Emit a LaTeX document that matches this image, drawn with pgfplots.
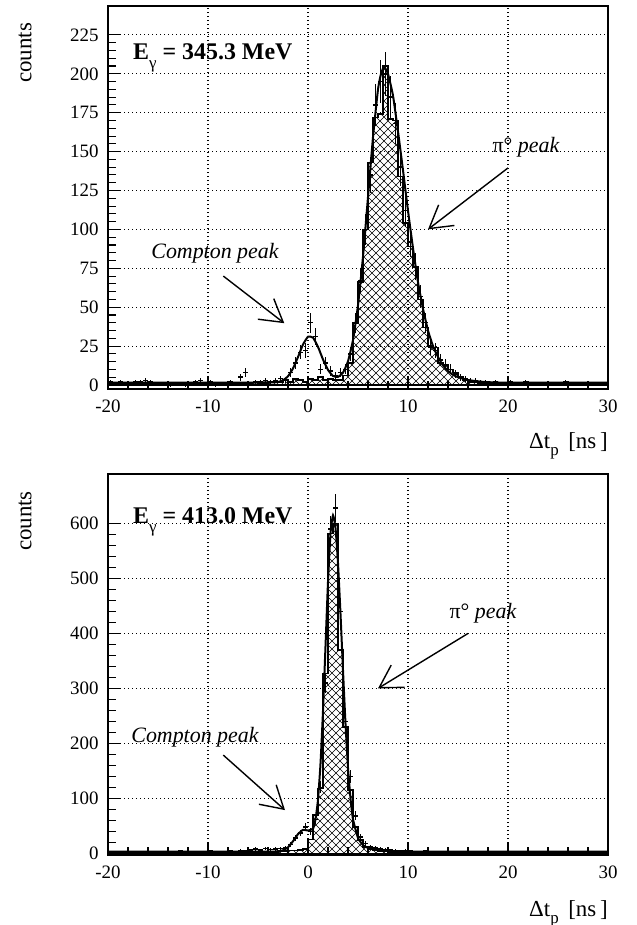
\documentclass[border=0pt]{standalone}
\usepackage{fontspec}
\setmainfont{Liberation Serif}
\usepackage{pgfplots}
\pgfplotsset{compat=1.18}
\usepackage{pgfplotstable}
\usetikzlibrary{arrows.meta,patterns}

\pgfdeclarepatternformonly{bigcross}{\pgfpoint{-1bp}{-1bp}}{\pgfpoint{9bp}{9bp}}{\pgfpoint{8bp}{8bp}}{%
  \pgfsetlinewidth{0.6bp}%
  \pgfpathmoveto{\pgfpoint{0bp}{0bp}}\pgfpathlineto{\pgfpoint{8bp}{8bp}}%
  \pgfpathmoveto{\pgfpoint{0bp}{8bp}}\pgfpathlineto{\pgfpoint{8bp}{0bp}}%
  \pgfusepath{stroke}}

% top panel: histogram (left bin edge, counts)
\pgfplotstableread[row sep=\\]{
x y\\
-20 1\\ -18 0.5\\ -16 1\\ -14 0.5\\ -12 1\\ -10 0.5\\ -8 1\\ -6 1.5\\ -5 1\\ -4 2\\ -3 1.5\\ -2.5 3\\ -2 2\\ -1.5 4\\ -1 3\\ -0.5 2\\ 0 4\\ 0.5 3\\ 1 5\\ 1.5 3\\ 2 4\\ 2.5 3\\ 3 3\\ 3.5 6\\ 4 14\\ 4.5 40\\ 5 66\\ 5.5 100\\ 6 143\\ 6.5 172\\ 7 174\\ 7.5 205\\ 8 171\\ 8.5 170\\ 9 134\\ 9.5 104\\ 10 89\\ 10.5 76\\ 11 55\\ 11.5 37\\ 12 25\\ 12.5 24\\ 13 14\\ 13.5 13\\ 14 10\\ 14.5 8\\ 15 5\\ 15.5 3\\ 16 2\\ 17 1\\ 18 0.5\\ 20 1\\ 22 0.5\\ 24 0.5\\ 26 0.5\\ 28 0.5\\ 30 0.5\\
}\histA

% top panel: data points (bin centre, counts, error)
\pgfplotstableread[row sep=\\]{
x y e\\
-19.75 2 1.4\\ -19.25 1 1\\ -18.75 2 1.4\\ -18.25 1 1\\ -17.75 1 1\\ -17.25 2 1.4\\ -16.75 2 1.4\\ -16.25 3 1.7\\ -15.75 2 1.4\\ -15.25 1 1\\
-14.75 1 1\\ -14.25 1 1\\ -13.75 0 1\\ -13.25 1 1\\ -12.75 1 1\\ -12.25 0 1\\ -11.75 1 1\\ -11.25 2 1.4\\ -10.75 3 1.7\\ -10.25 1 1\\
-9.75 2 1.4\\ -9.25 0 1\\ -8.75 1 1\\ -8.25 1 1\\ -7.75 2 1.4\\ -7.25 1 1\\ -6.75 5 2.2\\ -6.25 8 2.8\\ -5.75 1 1\\ -5.25 2 1.4\\
-4.75 2 1.4\\ -4.25 3 1.7\\ -3.75 2 1.4\\ -3.25 3 1.7\\ -2.75 4 2\\ -2.25 3 1.7\\ -1.75 8 2.8\\ -1.25 14 3.7\\ -0.75 21 4.6\\ -0.25 22 4.7\\
0.25 40 6.3\\ 0.75 31 5.6\\ 1.25 10 3.2\\ 1.75 14 3.7\\ 2.25 9 3\\ 2.75 6 2.4\\ 3.25 8 2.8\\ 3.75 10 3.2\\ 4.25 20 4.5\\ 4.75 40 6.3\\
5.25 67 8.2\\ 5.75 100 10\\ 6.25 135 11.6\\ 6.75 180 13.4\\ 7.25 195 14\\ 7.75 200 14.1\\ 8.25 185 13.6\\ 8.75 168 13\\ 9.25 140 11.8\\ 9.75 112 10.6\\
10.25 92 9.6\\ 10.75 76 8.7\\ 11.25 57 7.5\\ 11.75 40 6.3\\ 12.25 24 4.9\\ 12.75 22 4.7\\ 13.25 16 4\\ 13.75 13 3.6\\ 14.25 10 3.2\\ 14.75 7 2.6\\
15.25 5 2.2\\ 15.75 4 2\\ 16.25 3 1.7\\ 16.75 3 1.7\\ 17.25 2 1.4\\ 17.75 2 1.4\\ 18.25 1 1\\ 18.75 2 1.4\\ 19.25 1 1\\ 19.75 1 1\\
20.25 2 1.4\\ 20.75 1 1\\ 21.25 1 1\\ 21.75 2 1.4\\ 22.25 1 1\\ 22.75 1 1\\ 23.25 1 1\\ 23.75 1 1\\ 24.25 1 1\\ 24.75 1 1\\
25.25 1 1\\ 25.75 2 1.4\\ 26.25 1 1\\ 26.75 1 1\\ 27.25 1 1\\ 27.75 1 1\\ 28.25 1 1\\ 28.75 1 1\\ 29.25 1 1\\ 29.75 1 1\\
}\dataA

% bottom panel: histogram
\pgfplotstableread[row sep=\\]{
x y\\
-20 2\\ -18 1\\ -16 2\\ -14 1\\ -12 2\\ -10 1\\ -8 2\\ -6 1\\ -5 2\\ -4 3\\ -3 4\\ -2 5\\ -1 6\\ -0.5 8\\ 0 25\\ 0.5 70\\ 1 118\\ 1.5 327\\ 2 582\\ 2.5 600\\ 3 370\\ 3.5 230\\ 4 115\\ 4.5 48\\ 5 24\\ 5.5 12\\ 6 8\\ 6.5 6\\ 7 4\\ 8 3\\ 9 2\\ 10 3\\ 12 2\\ 14 2\\ 16 1\\ 18 2\\ 20 1\\ 22 2\\ 24 1\\ 26 1\\ 28 1\\ 30 1\\
}\histB

% bottom panel: data points
\pgfplotstableread[row sep=\\]{
x y e\\
-19.75 3 1.7\\ -19.25 2 1.4\\ -18.75 3 1.7\\ -18.25 2 1.4\\ -17.75 3 1.7\\ -17.25 2 1.4\\ -16.75 2 1.4\\ -16.25 3 1.7\\ -15.75 2 1.4\\ -15.25 2 1.4\\
-14.75 3 1.7\\ -14.25 2 1.4\\ -13.75 2 1.4\\ -13.25 3 1.7\\ -12.75 4 2\\ -12.25 3 1.7\\ -11.75 2 1.4\\ -11.25 3 1.7\\ -10.75 3 1.7\\ -10.25 2 1.4\\
-9.75 4 2\\ -9.25 3 1.7\\ -8.75 3 1.7\\ -8.25 2 1.4\\ -7.75 4 2\\ -7.25 3 1.7\\ -6.75 5 2.2\\ -6.25 4 2\\ -5.75 6 2.4\\ -5.25 8 2.8\\
-4.75 6 2.4\\ -4.25 9 3\\ -3.75 7 2.6\\ -3.25 8 2.8\\ -2.75 9 3\\ -2.25 10 3.2\\ -1.75 16 4\\ -1.25 28 5.3\\ -0.75 37 6.1\\ -0.25 48 6.9\\
0.25 40 6.3\\ 0.75 62 7.9\\ 1.25 120 11\\ 1.75 310 17.6\\ 2.25 590 24.3\\ 2.75 628 25.1\\ 3.25 440 21\\ 3.75 240 15.5\\ 4.25 140 11.8\\ 4.75 68 8.2\\
5.25 30 5.5\\ 5.75 18 4.2\\ 6.25 12 3.5\\ 6.75 10 3.2\\ 7.25 8 2.8\\ 7.75 7 2.6\\ 8.25 6 2.4\\ 8.75 5 2.2\\ 9.25 4 2\\ 9.75 5 2.2\\
10.25 4 2\\ 10.75 3 1.7\\ 11.25 3 1.7\\ 11.75 4 2\\ 12.25 3 1.7\\ 12.75 2 1.4\\ 13.25 3 1.7\\ 13.75 2 1.4\\ 14.25 3 1.7\\ 14.75 2 1.4\\
15.25 2 1.4\\ 15.75 3 1.7\\ 16.25 2 1.4\\ 16.75 2 1.4\\ 17.25 3 1.7\\ 17.75 2 1.4\\ 18.25 2 1.4\\ 18.75 3 1.7\\ 19.25 2 1.4\\ 19.75 2 1.4\\
20.25 3 1.7\\ 20.75 2 1.4\\ 21.25 2 1.4\\ 21.75 3 1.7\\ 22.25 2 1.4\\ 22.75 2 1.4\\ 23.25 3 1.7\\ 23.75 2 1.4\\ 24.25 2 1.4\\ 24.75 2 1.4\\
25.25 3 1.7\\ 25.75 2 1.4\\ 26.25 2 1.4\\ 26.75 2 1.4\\ 27.25 2 1.4\\ 27.75 3 1.7\\ 28.25 2 1.4\\ 28.75 2 1.4\\ 29.25 2 1.4\\ 29.75 2 1.4\\
}\dataB

\tikzset{
  ann/.style={font=\fontsize{22}{22}\selectfont\itshape, inner sep=0pt},
  arr/.style={black, line width=1.4bp, -{Straight Barb[length=22bp, width=26bp, line width=1.4bp]}},
}
\pgfplotsset{
  panel/.style={
    scale only axis, width=500bp,
    xmin=-20, xmax=30,
    xtick={-20,-10,0,10,20,30},
    xticklabels={-20,-10,0,10,20,30},
    minor x tick num=4, minor y tick num=4,
    tick pos=left, tick align=inside,
    major tick length=12bp, minor tick length=8bp,
    tick style={black, line width=1.1bp},
    xmajorgrids, ymajorgrids,
    major grid style={black, line width=1.1bp, dash pattern=on 1.3bp off 2.7bp},
    axis line style={black, line width=1.1bp},
    ticklabel style={font=\fontsize{19}{19}\selectfont},
    xticklabel style={yshift=-7bp},
    yticklabel style={xshift=-6bp},
    clip mode=individual,
  },
  histo/.style={const plot, draw=black, line width=1.6bp, pattern=bigcross, mark=none},
  fit/.style={black, line width=2bp, smooth, tension=0.3, mark=none},
  pts/.style={black, only marks, mark=-, mark size=0.1bp,
    error bars/.cd, x dir=both, x fixed=0.25, y dir=both, y explicit,
    error bar style={line width=1.5bp, black}, error mark=none},
}

\begin{document}
\begin{tikzpicture}
\path[use as bounding box] (0bp,0bp) rectangle (637bp,-925bp);

% ---------------- top panel ----------------
\begin{axis}[panel, at={(108bp,-6bp)}, anchor=north west, height=383bp,
  ymin=-2.6, ymax=243.6,
  ytick={0,25,50,75,100,125,150,175,200,225},
  yticklabels={0,25,50,75,100,125,150,175,200,225}]
\addplot[histo] table[x=x,y=y] {\histA} \closedcycle;
\addplot[fit] coordinates {(-20,1.5) (-10,1.5) (-4,1.6) (-3,1.9) (-2.5,3.0) (-2,5.6) (-1.5,10.6) (-1,18.0) (-0.5,26.0) (0,31.0) (0.5,30.4) (1,24.5) (1.5,16.4) (2,9.7) (2.5,5.8) (3,5.2) (3.5,7.9) (4,15.2) (4.5,28.9) (5,51.2) (5.5,82.5) (6,120.7) (6.5,159.3) (7,190) (7.3,200) (7.6,204.5) (8,200) (8.5,186) (9,163) (9.5,138) (10,112) (10.5,88) (11,66) (11.5,49) (12,35) (12.5,25) (13,18) (13.5,12.5) (14,9) (14.5,6.5) (15,5) (16,3.2) (17,2.3) (18,1.8) (20,1.5) (30,1.5)};
\addplot[pts] table[x=x,y=y,y error=e] {\dataA};
\node[anchor=base west, inner sep=0pt, font=\fontsize{24}{24}\selectfont\bfseries] at (axis cs:-17.5,209)
  {E\raisebox{-9bp}{\fontsize{17}{17}\selectfont\mdseries γ} = 345.3 MeV};
\node[ann] at (axis cs:-9.3,85) {Compton peak};
\draw[arr] (axis cs:-8.47,70) -- (axis cs:-2.37,39.7);
\node[ann, anchor=center] at (axis cs:21.8,153) {\upshape π°\ \itshape peak};
\draw[arr] (axis cs:20.0,139.5) -- (axis cs:12.0,100);
\end{axis}
\node[rotate=90, font=\fontsize{23}{23}\selectfont] at (25bp,-53bp) {counts};
\node[anchor=base east, inner sep=0pt, font=\fontsize{23}{23}\selectfont] at (608bp,-448bp)
  {Δt\raisebox{-7bp}{\fontsize{17}{17}\selectfont p}\ \,[ns\,]};

% ---------------- bottom panel ----------------
\begin{axis}[panel, at={(108bp,-474bp)}, anchor=north west, height=381bp,
  ymin=-3, ymax=690,
  ytick={0,100,200,300,400,500,600},
  yticklabels={0,100,200,300,400,500,600}]
\addplot[histo] table[x=x,y=y] {\histB} \closedcycle;
\addplot[fit] coordinates {(-20,3) (-10,3) (-4,3.1) (-3,3.6) (-2.5,5.6) (-2,11.2) (-1.5,22) (-1,35) (-0.5,42.8) (0,41.6) (0.5,44.8) (0.75,62) (1,97.7) (1.25,163) (1.5,259) (1.75,376.6) (2,494) (2.25,582) (2.5,615) (2.75,592) (3,528) (3.25,436) (3.5,333) (3.75,236) (4,156) (4.25,100) (4.5,62) (5,28) (5.5,15) (6,10) (7,6) (8,4.5) (10,3.5) (12,3) (30,3)};
\addplot[pts] table[x=x,y=y,y error=e] {\dataB};
\node[anchor=base west, inner sep=0pt, font=\fontsize{24}{24}\selectfont\bfseries] at (axis cs:-17.5,600)
  {E\raisebox{-9bp}{\fontsize{17}{17}\selectfont\mdseries γ} = 413.0 MeV};
\node[ann] at (axis cs:-11.3,212) {Compton peak};
\draw[arr] (axis cs:-8.47,178.7) -- (axis cs:-2.3,78.7);
\node[ann, anchor=center] at (axis cs:17.5,437) {\upshape π°\ \itshape peak};
\draw[arr] (axis cs:16.0,400) -- (axis cs:7.0,300);
\end{axis}
\node[rotate=90, font=\fontsize{23}{23}\selectfont] at (25bp,-521bp) {counts};
\node[anchor=base east, inner sep=0pt, font=\fontsize{23}{23}\selectfont] at (608bp,-916bp)
  {Δt\raisebox{-7bp}{\fontsize{17}{17}\selectfont p}\ \,[ns\,]};
\end{tikzpicture}
\end{document}
